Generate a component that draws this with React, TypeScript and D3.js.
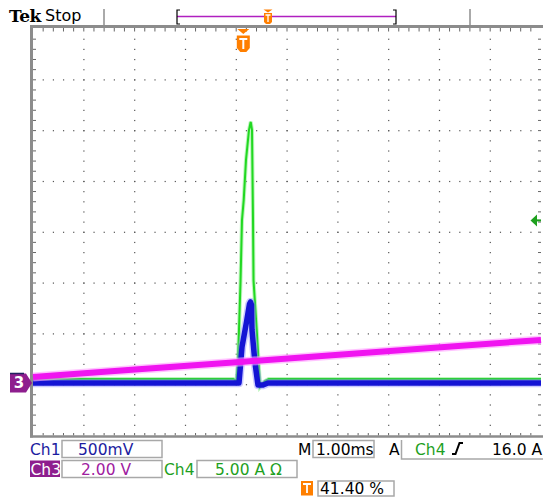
import React from "react";
import * as d3 from "d3";

// time axis: M 1.00ms/div, trigger at 41.40 % of record
const timeDomain = [-4.14, 5.86]; // ms

// Ch4 current (A), 5.00 A/div
const ch4Time = [-4.14, -0.2, -0.134, -0.104, -0.055, -0.026, 0.008, 0.053, 0.112, 0.146, 0.171, 0.191, 0.201, 0.264, 0.329, 0.427, 0.5, 5.86];
const ch4Amps = [0.4, 0.4, 0.2, 2.26, 9.94, 16.04, 18.0, 21.95, 24.9, 25.7, 24.9, 16.04, 10.1, 5.2, -0.39, 0.2, 0.4, 0.4];

// Ch1 voltage (V), 500 mV/div
const ch1Time = [-4.14, -0.085, -0.026, 0.063, 0.122, 0.142, 0.161, 0.171, 0.23, 0.289, 0.388, 0.486, 5.86];
const ch1Volts = [0, 0, 0.354, 0.6, 0.778, 0.797, 0.768, 0.522, 0.197, -0.02, -0.02, 0, 0];

// Ch3 voltage (V), 2.00 V/div
const ch3Time = [-4.14, -2.13, 0, 1.88, 3.89, 5.86];
const ch3Volts = [0.236, 0.528, 0.839, 1.114, 1.409, 1.693];

const trigLevel = 16.0; // A on Ch4

const W = 543;
const H = 497;
const gx0 = 33;
const gx1 = 541;
const gy0 = 29;
const gy1 = 435.5;
const div = (gx1 - gx0) / 10;
const groundY = 383;
const groundDiv = (gy1 - groundY) / div;

const font = "DejaVu Sans, Verdana, sans-serif";

const chanScale = (perDiv: number) =>
  d3
    .scaleLinear()
    .domain([-groundDiv * perDiv, (8 - groundDiv) * perDiv])
    .range([gy1, gy0]);

const App: React.FC = () => {
  const x = d3.scaleLinear().domain(timeDomain).range([gx0, gx1]);
  const y1 = chanScale(0.5);
  const y3 = chanScale(2);
  const y4 = chanScale(5);

  const mkLine = (ts: number[], vs: number[], ys: d3.ScaleLinear<number, number>) =>
    d3
      .line<number>()
      .x((_, i) => x(ts[i]))
      .y((v) => ys(v))(vs) || "";

  const greenPath = mkLine(ch4Time, ch4Amps, y4);
  const bluePath = mkLine(ch1Time, ch1Volts, y1);
  const magentaPath = mkLine(ch3Time, ch3Volts, y3);

  // graticule dots and ticks
  const sub = div / 5;
  const dots: JSX.Element[] = [];
  for (let k = 1; k < 10; k++) {
    const gx = gx0 + k * div;
    for (let j = 1; j < 40; j++) {
      dots.push(<rect key={`v${k}-${j}`} x={gx - 0.5} y={gy0 + j * sub - 0.5} width={1.2} height={1.2} fill="#555" />);
    }
  }
  for (let k = 1; k < 8; k++) {
    const gy = gy0 + k * div;
    for (let j = 1; j < 50; j++) {
      dots.push(<rect key={`h${k}-${j}`} x={gx0 + j * sub - 0.5} y={gy - 0.5} width={1.2} height={1.2} fill="#555" />);
    }
  }
  const ticks: JSX.Element[] = [];
  for (let j = 1; j < 50; j++) {
    const tx = gx0 + j * sub;
    ticks.push(<line key={`tt${j}`} x1={tx} x2={tx} y1={gy0 - 1} y2={gy0 + 2.5} stroke="#666" />);
    ticks.push(<line key={`tb${j}`} x1={tx} x2={tx} y1={gy1 - 2.5} y2={gy1} stroke="#666" />);
  }
  for (let j = 1; j < 40; j++) {
    const ty = gy0 + j * sub;
    ticks.push(<line key={`tl${j}`} x1={gx0} x2={gx0 + 3} y1={ty} y2={ty} stroke="#666" />);
    ticks.push(<line key={`tr${j}`} x1={gx1 - 3} x2={gx1} y1={ty} y2={ty} stroke="#666" />);
  }

  const trigX = x(0);
  const trigY = y4(trigLevel);
  const gnd3 = y3(0);

  return (
    <svg
      width={W}
      height={H}
      style={{ position: "absolute", left: 0, top: 0, background: "#fff" }}
      fontFamily={font}
    >
      <rect width={W} height={H} fill="#fff" />

      {/* header */}
      <text x={9} y={22} fontFamily="DejaVu Serif, serif" fontWeight="bold" fontSize={17} letterSpacing={-0.5}>
        Tek
      </text>
      <text x={45} y={21} fontSize={16}>
        Stop
      </text>
      <line x1={104} x2={104} y1={9} y2={26} stroke="#aaa" strokeWidth={2} />
      <line x1={470} x2={470} y1={9} y2={26} stroke="#aaa" strokeWidth={2} />
      <line x1={177} x2={396} y1={16.5} y2={16.5} stroke="#b020c0" strokeWidth={1.5} />
      <path d="M180,10 L177,10 L177,24 L180,24" fill="none" stroke="#000" strokeWidth={1.2} />
      <path d="M393,10 L396,10 L396,24 L393,24" fill="none" stroke="#000" strokeWidth={1.2} />
      <path d="M263.5,9.5 L272.5,9.5 L268,12.5 Z" fill="#ff7f00" />
      <path d="M264,13 L272,13 L272,22 L270,24 L266,24 L264,22 Z" fill="#ff7f00" />
      <path d="M265.5,15 L270.5,15 M268,15 L268,22" stroke="#fff" strokeWidth={1.3} />

      {/* graticule */}
      <rect x={gx0} y={gy0} width={gx1 - gx0} height={gy1 - gy0} fill="#fff" />
      {dots}
      {ticks}
      <line x1={gx0 - 2} x2={W} y1={26.5} y2={26.5} stroke="#8c8c8c" strokeWidth={3} />
      <line x1={gx0 - 1.5} x2={gx0 - 1.5} y1={25} y2={gy1 + 2} stroke="#8c8c8c" strokeWidth={3} />
      <line x1={gx0 - 3} x2={W} y1={gy1 + 1} y2={gy1 + 1} stroke="#8c8c8c" strokeWidth={2.5} />

      {/* traces */}
      <path d={greenPath} fill="none" stroke="#8ff08f" strokeWidth={4} opacity={0.6} />
      <path d={greenPath} fill="none" stroke="#22d822" strokeWidth={2} />
      <path d={bluePath} fill="none" stroke="#8a8aff" strokeWidth={8.5} opacity={0.45} strokeLinejoin="round" />
      <path d={bluePath} fill="none" stroke="#1414d4" strokeWidth={5.5} strokeLinejoin="round" />
      <path d={magentaPath} fill="none" stroke="#ff9cff" strokeWidth={9} opacity={0.6} />
      <path d={magentaPath} fill="none" stroke="#f014f0" strokeWidth={6} />

      {/* trigger position marker */}
      <path d={`M${trigX - 6},29 L${trigX + 6},29 L${trigX},34 Z`} fill="#ff7f00" />
      <path
        d={`M${trigX - 6.5},35.5 L${trigX + 6.5},35.5 L${trigX + 6.5},48 L${trigX + 3},52 L${trigX - 3},52 L${trigX - 6.5},48 Z`}
        fill="#ff7f00"
      />
      <path d={`M${trigX - 4},39 L${trigX + 4},39 M${trigX},39 L${trigX},49`} stroke="#fff" strokeWidth={2} />

      {/* trigger level marker */}
      <path d={`M${gx1 - 10.5},${trigY} L${gx1 - 4},${trigY - 6} L${gx1 - 4},${trigY + 6} Z`} fill="#1ea01e" />
      <line x1={gx1 - 5} x2={gx1} y1={trigY} y2={trigY} stroke="#1ea01e" strokeWidth={2} />

      {/* ch3 ground marker */}
      <path
        d={`M10,${gnd3 - 9.5} L26,${gnd3 - 9.5} L32,${gnd3} L26,${gnd3 + 9.5} L10,${gnd3 + 9.5} Z`}
        fill="#8e1e8e"
      />
      <line x1={10} x2={24} y1={gnd3 - 9.5} y2={gnd3 - 9.5} stroke="#202060" strokeWidth={1.5} />
      <text x={19} y={gnd3 + 5.5} fill="#fff" fontSize={15} fontWeight="bold" textAnchor="middle">
        3
      </text>

      {/* readouts */}
      <g fontSize={15.5}>
        <text x={30} y={454.5} fill="#1c1ca0">Ch1</text>
        <rect x={62} y={440.5} width={100} height={17} fill="none" stroke="#a8a8a8" strokeWidth={1.5} />
        <text x={78} y={454.5} fill="#1c1ca0">500mV</text>

        <text x={298} y={454.5} fill="#000">M</text>
        <rect x={313} y={440.5} width={61} height={17} fill="none" stroke="#a8a8a8" strokeWidth={1.5} />
        <text x={316} y={454.5} fill="#000">1.00ms</text>
        <text x={389} y={454.5} fill="#000">A</text>
        <path d="M401.5,440 L401.5,459 L543,459" fill="none" stroke="#a8a8a8" strokeWidth={1.5} />
        <text x={415} y={454.5} fill="#1ea01e">Ch4</text>
        <path d="M452,454 L455.5,454 L459.5,443 L463,443" fill="none" stroke="#000" strokeWidth={2} />
        <text x={492} y={454.5} fill="#000">16.0 A</text>

        <rect x={30} y={460.5} width={30} height={16.5} fill="#8e1e8e" />
        <text x={30.5} y={474.5} fill="#fff">Ch3</text>
        <rect x={62} y={460.5} width={100} height={17} fill="none" stroke="#a8a8a8" strokeWidth={1.5} />
        <text x={81} y={474.5} fill="#a020a0">2.00 V</text>
        <text x={164} y={474.5} fill="#1ea01e">Ch4</text>
        <rect x={197} y={460.5} width={100} height={17} fill="none" stroke="#a8a8a8" strokeWidth={1.5} />
        <text x={215} y={474.5} fill="#1ea01e">5.00 A Ω</text>

        <rect x={301} y={481} width={12} height={14.5} fill="#ff7f00" />
        <path d="M303,484 L311,484 M307,484 L307,493" stroke="#fff" strokeWidth={1.8} />
        <rect x={318} y={481} width={76} height={15} fill="none" stroke="#a8a8a8" strokeWidth={1.5} />
        <text x={320} y={494} fill="#000">41.40 %</text>
      </g>
    </svg>
  );
};

export default App;
